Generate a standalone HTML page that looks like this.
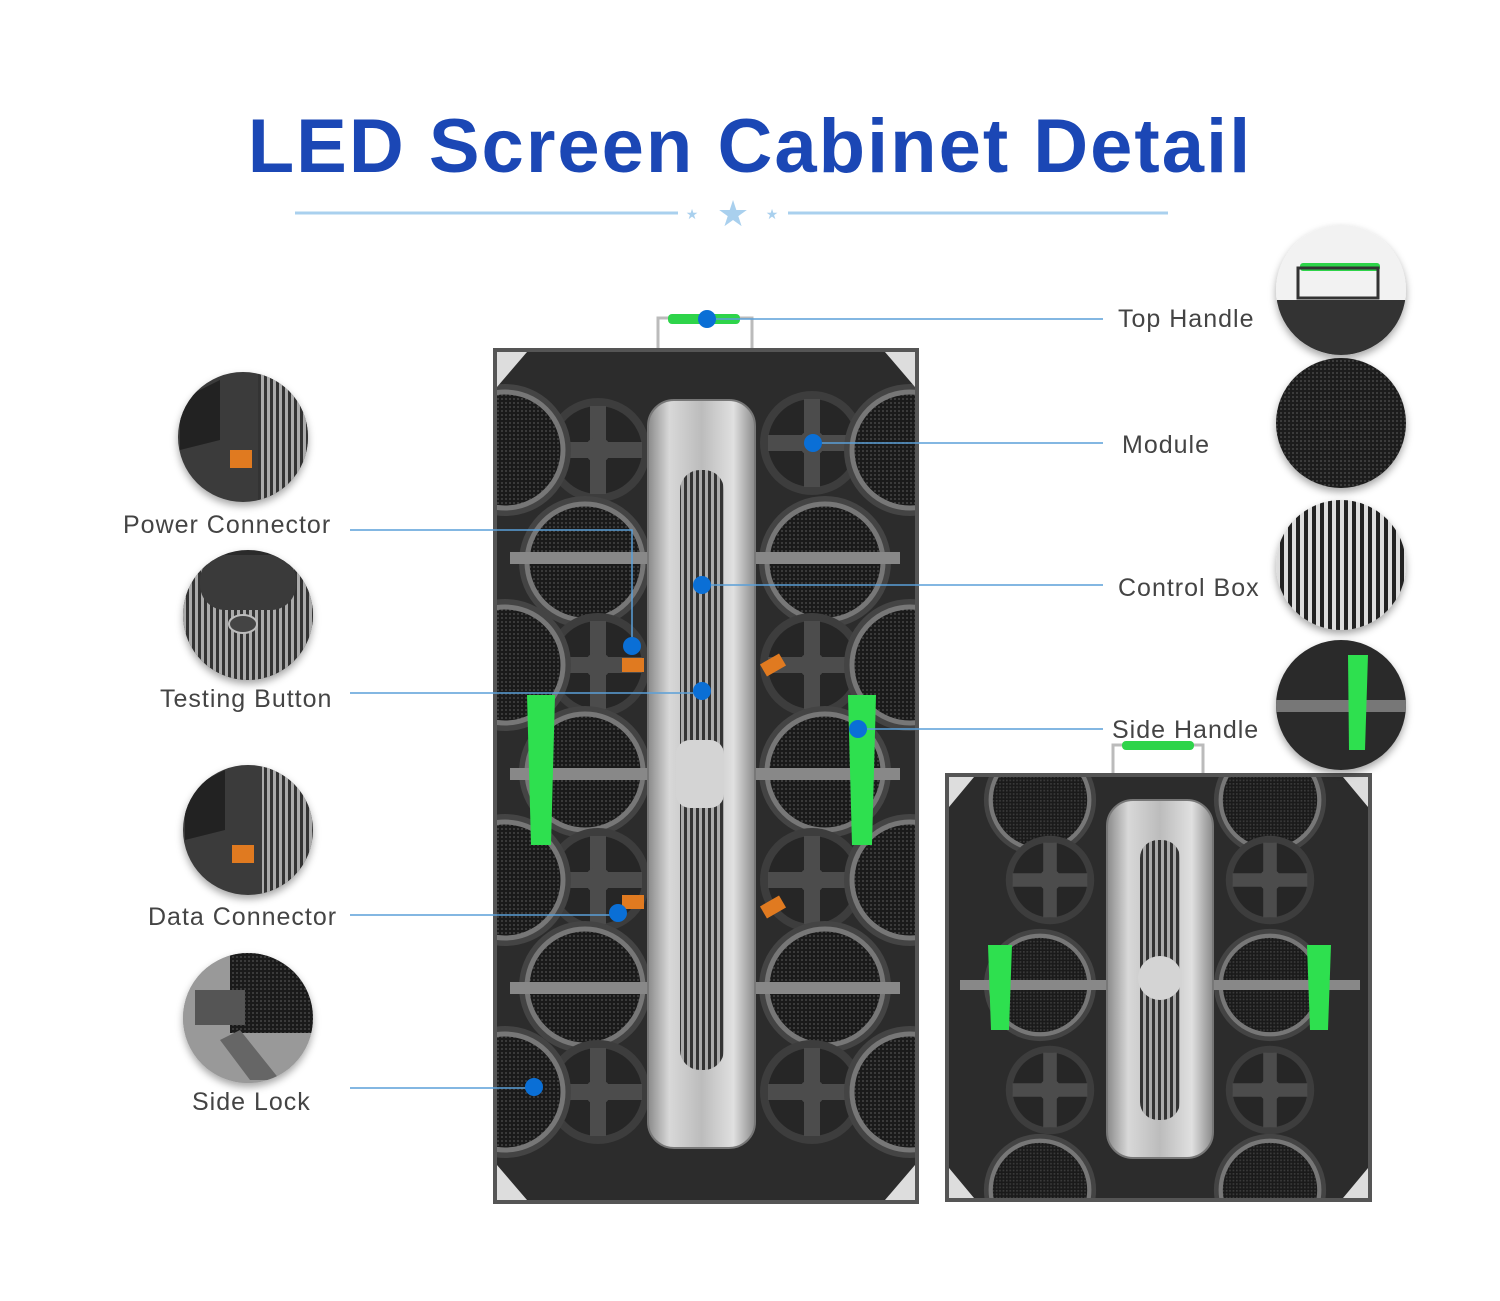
<!DOCTYPE html>
<html><head><meta charset="utf-8"><style>
body{margin:0;background:#fff;width:1500px;height:1296px;overflow:hidden;font-family:"Liberation Sans",sans-serif}
</style></head><body>
<svg width="1500" height="1296" viewBox="0 0 1500 1296" xmlns="http://www.w3.org/2000/svg">
<defs>
<pattern id="grid" width="4" height="4" patternUnits="userSpaceOnUse"><rect width="4" height="4" fill="#1a1a1a"/><rect width="2" height="2" fill="#3a3a3a"/></pattern>
<pattern id="stripes" width="8" height="8" patternUnits="userSpaceOnUse"><rect width="8" height="8" fill="#ddd"/><rect width="4" height="8" fill="#222"/></pattern>
<pattern id="vstr" width="6" height="6" patternUnits="userSpaceOnUse"><rect width="6" height="6" fill="#aaa"/><rect width="3" height="6" fill="#333"/></pattern>
<linearGradient id="silver" x1="0" x2="1"><stop offset="0" stop-color="#8a8a8a"/><stop offset="0.2" stop-color="#d8d8d8"/><stop offset="0.5" stop-color="#bcbcbc"/><stop offset="0.8" stop-color="#e0e0e0"/><stop offset="1" stop-color="#8a8a8a"/></linearGradient>
<g id="bigc"><circle r="66" fill="#444"/><circle r="58" fill="url(#grid)" stroke="#777" stroke-width="5"/></g>
<g id="smc"><circle r="52" fill="#3d3d3d"/><circle r="44" fill="#262626"/><path d="M-44 0H44M0 -44V44" stroke="#4c4c4c" stroke-width="16"/><circle r="13" fill="#4c4c4c"/></g>
<filter id="sh"><feDropShadow dx="0" dy="4" stdDeviation="4" flood-opacity="0.35"/></filter>
<clipPath id="c1"><circle cx="243" cy="437" r="65"/></clipPath>
<clipPath id="c2"><circle cx="248" cy="615" r="65"/></clipPath>
<clipPath id="c3"><circle cx="248" cy="830" r="65"/></clipPath>
<clipPath id="c4"><circle cx="248" cy="1018" r="65"/></clipPath>
<clipPath id="c5"><circle cx="1341" cy="290" r="65"/></clipPath>
<clipPath id="c8"><circle cx="1341" cy="705" r="65"/></clipPath>
<clipPath id="bigcab"><rect x="497" y="352" width="418" height="848"/></clipPath>
<clipPath id="smcab"><rect x="949" y="777" width="419" height="421"/></clipPath>
</defs>

<text x="750" y="172" text-anchor="middle" font-family="Liberation Sans,sans-serif" font-weight="bold" font-size="76" fill="#1b47b5" letter-spacing="2">LED Screen Cabinet Detail</text>
<line x1="295" y1="213" x2="678" y2="213" stroke="#a9d0ee" stroke-width="3"/>
<line x1="788" y1="213" x2="1168" y2="213" stroke="#a9d0ee" stroke-width="3"/>
<text x="692" y="219" text-anchor="middle" font-size="14" fill="#a9d0ee">★</text>
<text x="733" y="226" text-anchor="middle" font-size="36" fill="#a9d0ee">★</text>
<text x="772" y="219" text-anchor="middle" font-size="14" fill="#a9d0ee">★</text>

<!-- big cabinet -->
<g>
<rect x="658" y="318" width="94" height="40" fill="none" stroke="#bbb" stroke-width="3"/>
<rect x="668" y="314" width="72" height="10" rx="4" fill="#2ed44a"/>
<rect x="495" y="350" width="422" height="852" fill="#2c2c2c" stroke="#555" stroke-width="4"/>
<g clip-path="url(#bigcab)">
<use href="#smc" x="598" y="450"/><use href="#smc" x="812" y="443"/>
<use href="#bigc" x="585" y="562"/><use href="#bigc" x="825" y="562"/>
<use href="#smc" x="598" y="665"/><use href="#smc" x="812" y="665"/>
<use href="#bigc" x="585" y="772"/><use href="#bigc" x="825" y="772"/>
<use href="#smc" x="598" y="880"/><use href="#smc" x="812" y="880"/>
<use href="#bigc" x="585" y="987"/><use href="#bigc" x="825" y="987"/>
<use href="#smc" x="598" y="1092"/><use href="#smc" x="812" y="1092"/>
<use href="#bigc" x="505" y="450"/><use href="#bigc" x="910" y="450"/>
<use href="#bigc" x="505" y="665"/><use href="#bigc" x="910" y="665"/>
<use href="#bigc" x="505" y="880"/><use href="#bigc" x="910" y="880"/>
<use href="#bigc" x="505" y="1092"/><use href="#bigc" x="910" y="1092"/>
</g>
<rect x="510" y="552" width="140" height="12" fill="#888"/><rect x="755" y="552" width="145" height="12" fill="#888"/>
<rect x="510" y="768" width="140" height="12" fill="#888"/><rect x="755" y="768" width="145" height="12" fill="#888"/>
<rect x="510" y="982" width="140" height="12" fill="#888"/><rect x="755" y="982" width="145" height="12" fill="#888"/>
<rect x="648" y="400" width="107" height="748" rx="26" fill="url(#silver)" stroke="#777" stroke-width="2"/>
<rect x="680" y="470" width="44" height="600" rx="20" fill="url(#vstr)"/>
<rect x="676" y="740" width="48" height="68" rx="14" fill="#d4d4d4"/>
<path d="M527 695 h28 l-4 150 h-20z" fill="#2ee04f"/>
<path d="M848 695 h28 l-4 150 h-20z" fill="#2ee04f"/>
<rect x="762" y="658" width="22" height="14" fill="#e07a20" transform="rotate(-30 773 665)"/>
<rect x="622" y="658" width="22" height="14" fill="#e07a20"/>
<rect x="622" y="895" width="22" height="14" fill="#e07a20"/>
<rect x="762" y="900" width="22" height="14" fill="#e07a20" transform="rotate(-30 773 907)"/>
<path d="M497 352 l30 0 -30 35z M915 352 l-30 0 30 35z M497 1200 l30 0 -30 -35z M915 1200 l-30 0 30 -35z" fill="#ddd"/>
</g>

<!-- small cabinet -->
<g>
<rect x="1113" y="745" width="90" height="36" fill="none" stroke="#bbb" stroke-width="3"/>
<rect x="1122" y="741" width="72" height="9" rx="4" fill="#2ed44a"/>
<rect x="947" y="775" width="423" height="425" fill="#2c2c2c" stroke="#555" stroke-width="4"/>
<g clip-path="url(#smcab)">
<use href="#bigc" x="1040" y="800" transform="translate(1040 800) scale(0.85) translate(-1040 -800)"/>
<use href="#bigc" x="1270" y="800" transform="translate(1270 800) scale(0.85) translate(-1270 -800)"/>
<use href="#smc" x="1050" y="880" transform="translate(1050 880) scale(0.85) translate(-1050 -880)"/>
<use href="#smc" x="1270" y="880" transform="translate(1270 880) scale(0.85) translate(-1270 -880)"/>
<use href="#bigc" x="1040" y="985" transform="translate(1040 985) scale(0.85) translate(-1040 -985)"/>
<use href="#bigc" x="1270" y="985" transform="translate(1270 985) scale(0.85) translate(-1270 -985)"/>
<use href="#smc" x="1050" y="1090" transform="translate(1050 1090) scale(0.85) translate(-1050 -1090)"/>
<use href="#smc" x="1270" y="1090" transform="translate(1270 1090) scale(0.85) translate(-1270 -1090)"/>
<use href="#bigc" x="1040" y="1190" transform="translate(1040 1190) scale(0.85) translate(-1040 -1190)"/>
<use href="#bigc" x="1270" y="1190" transform="translate(1270 1190) scale(0.85) translate(-1270 -1190)"/>
</g>
<rect x="960" y="980" width="147" height="10" fill="#888"/><rect x="1213" y="980" width="147" height="10" fill="#888"/>
<rect x="1107" y="800" width="106" height="358" rx="26" fill="url(#silver)" stroke="#777" stroke-width="2"/>
<rect x="1140" y="840" width="40" height="280" rx="18" fill="url(#vstr)"/>
<circle cx="1160" cy="978" r="22" fill="#d4d4d4"/>
<path d="M988 945 h24 l-3 85 h-18z" fill="#2ee04f"/>
<path d="M1307 945 h24 l-3 85 h-18z" fill="#2ee04f"/>
<path d="M949 777 l25 0 -25 30z M1368 777 l-25 0 25 30z M949 1198 l25 0 -25 -30z M1368 1198 l-25 0 25 -30z" fill="#ddd"/>
</g>

<!-- detail circles -->
<g filter="url(#sh)">
<circle cx="243" cy="437" r="65" fill="#3a3a3a"/>
<circle cx="248" cy="615" r="65" fill="#2a2a2a"/>
<circle cx="248" cy="830" r="65" fill="#3a3a3a"/>
<circle cx="248" cy="1018" r="65" fill="#8a8a8a"/>
<circle cx="1341" cy="290" r="65" fill="#f2f2f2"/>
<circle cx="1341" cy="423" r="65" fill="url(#grid)"/>
<circle cx="1341" cy="565" r="65" fill="url(#stripes)"/>
<circle cx="1341" cy="705" r="65" fill="#2a2a2a"/>
</g>
<g clip-path="url(#c1)"><rect x="258" y="372" width="50" height="130" fill="url(#vstr)"/><rect x="230" y="450" width="22" height="18" fill="#e07a20"/><path d="M180 400 l40 -20 0 60 -40 10z" fill="#222"/></g>
<g clip-path="url(#c2)"><rect x="180" y="560" width="140" height="120" fill="url(#vstr)"/><rect x="200" y="555" width="96" height="55" rx="25" fill="#3a3a3a"/><ellipse cx="243" cy="624" rx="14" ry="9" fill="#444" stroke="#bbb" stroke-width="2"/></g>
<g clip-path="url(#c3)"><rect x="262" y="766" width="50" height="130" fill="url(#vstr)"/><rect x="232" y="845" width="22" height="18" fill="#e07a20"/><path d="M185 790 l40 -20 0 60 -40 10z" fill="#222"/></g>
<g clip-path="url(#c4)"><rect x="183" y="953" width="130" height="130" fill="#999"/><rect x="230" y="953" width="83" height="80" fill="url(#grid)"/><rect x="195" y="990" width="50" height="35" fill="#555"/><path d="M240 1030 l40 50 -30 0 -30 -40z" fill="#666"/></g>
<g clip-path="url(#c5)"><rect x="1300" y="263" width="80" height="8" rx="3" fill="#2ed44a"/><rect x="1298" y="268" width="80" height="30" fill="none" stroke="#333" stroke-width="3"/><rect x="1276" y="300" width="130" height="60" fill="#333"/></g>
<g clip-path="url(#c8)"><rect x="1276" y="700" width="130" height="12" fill="#777"/><path d="M1348 655 h20 l-3 95 h-16z" fill="#2ee04f"/></g>

<!-- connector lines -->
<g stroke="#5a9fd8" stroke-width="1.5" fill="none">
<path d="M707 319H1103"/><path d="M813 443H1103"/><path d="M702 585H1103"/><path d="M858 729H1103"/>
<path d="M350 530H632V646"/><path d="M350 693H702"/><path d="M350 915H618"/><path d="M350 1088H534"/>
</g>
<g fill="#0a6fd6">
<circle cx="707" cy="319" r="9"/><circle cx="813" cy="443" r="9"/><circle cx="702" cy="585" r="9"/><circle cx="858" cy="729" r="9"/>
<circle cx="632" cy="646" r="9"/><circle cx="702" cy="691" r="9"/><circle cx="618" cy="913" r="9"/><circle cx="534" cy="1087" r="9"/>
</g>
<g font-family="Liberation Sans,sans-serif" font-size="25" fill="#444" letter-spacing="1">
<text x="123" y="533">Power Connector</text>
<text x="160" y="707">Testing Button</text>
<text x="148" y="925">Data Connector</text>
<text x="192" y="1110">Side Lock</text>
<text x="1118" y="327">Top Handle</text>
<text x="1122" y="453">Module</text>
<text x="1118" y="596">Control Box</text>
<text x="1112" y="738">Side Handle</text>
</g>
</svg>
</body></html>
